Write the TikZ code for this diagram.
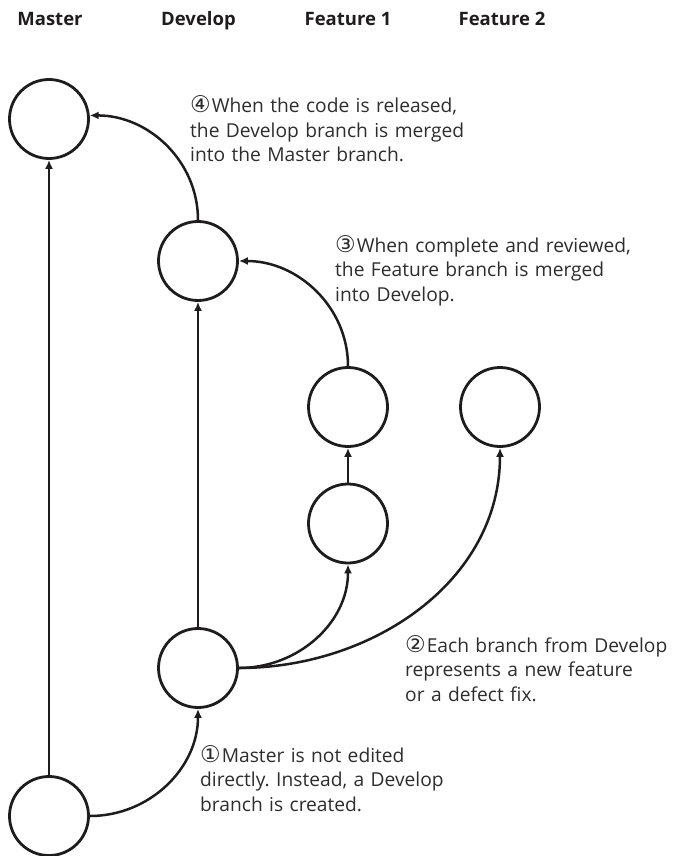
\documentclass[tikz,border=0pt]{standalone}
\usepackage{fontspec}
\setmainfont{Open Sans}
\newfontfamily\circfont{DejaVu Sans}
\usepackage{tikz}
\usetikzlibrary{arrows.meta,positioning}
\definecolor{GitInk}{RGB}{30,28,28}
\definecolor{GitText}{RGB}{45,45,45}
\frenchspacing

\newcommand{\stepno}[1]{{\circfont\fontsize{23}{20}\selectfont #1}\hspace{1pt}}

\begin{document}
\begin{tikzpicture}[x=1pt,y=-1pt,
  commit/.style={circle,draw=GitInk,line width=2.8pt,minimum size=79pt,inner sep=0pt},
  head/.style={anchor=base,font=\bfseries\fontsize{18.5}{20}\selectfont,text=GitInk,inner sep=0pt},
  note/.style={anchor=base west,align=left,text width=320pt,inner sep=0pt,
               font=\fontsize{19.2}{24.5}\selectfont,text=GitText},
  flow/.style={draw=GitInk,line width=2.5pt,-{Latex[length=9pt,width=8pt]}},
]
\useasboundingbox (0,0) rectangle (677,856);
% branch titles
\node[head] (hmaster) at (50,26) {Master};
\node[head] (hdevelop) at (198.5,26) {Develop};
\node[head] (hfeat1) at (348,26) {Feature 1};
\node[head] (hfeat2) at (502,26) {Feature 2};
% commits
\node[commit] (m0) at (49,816) {};
\node[commit] (m1) at (49,119) {};
\node[commit] (d0) at (198,668) {};
\node[commit] (d1) at (198,261) {};
\node[commit] (f1a) at (348,523.5) {};
\node[commit] (f1b) at (348,407) {};
\node[commit] (f2) at (500,407) {};
% connectors
\draw[flow] (m0) -- (m1);
\draw[flow] (m0.east) to[out=0,in=-90] (d0.south);
\draw[flow] (d0) -- (d1);
\draw[flow] (d0.east) to[out=0,in=-90] (f1a.south);
\draw[flow] (d0.east) to[out=0,in=-90] (f2.south);
\draw[flow] (f1a) -- (f1b);
\draw[flow] (f1b.north) to[out=90,in=0] (d1.east);
\draw[flow] (d1.north) to[out=90,in=0] (m1.5);
% notes
\node[note] (n4) at (190,113) {\stepno{④}When the code is released,\\the Develop branch is merged\\into the Master branch.};
\node[note] (n3) at (335,252) {\stepno{③}When complete and reviewed,\\the Feature branch is merged\\into Develop.};
\node[note] (n2) at (405,652) {\stepno{②}Each branch from Develop\\represents a new feature\\or a defect fix.};
\node[note] (n1) at (200,762) {\stepno{①}Master is not edited\\directly. Instead, a Develop\\branch is created.};
\end{tikzpicture}
\end{document}
